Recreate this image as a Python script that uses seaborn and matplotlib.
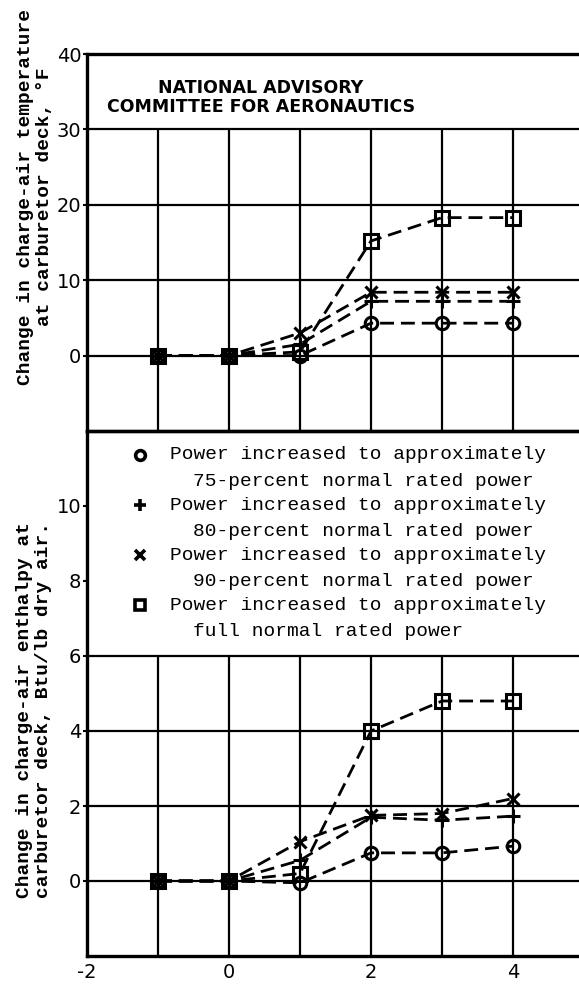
import matplotlib
matplotlib.use("Agg")
import matplotlib.pyplot as plt
from matplotlib.lines import Line2D
import seaborn as sns

# data (time axis, change values)
time = [-1, 0, 1, 2, 3, 4]

temp_75 = [0, 0, 0.0, 4.3, 4.3, 4.3]
temp_80 = [0, 0, 1.5, 7.2, 7.2, 7.2]
temp_90 = [0, 0, 3.0, 8.4, 8.4, 8.4]
temp_full = [0, 0, 0.5, 15.2, 18.3, 18.3]

enth_75 = [0, 0, -0.05, 0.75, 0.75, 0.93]
enth_80 = [0, 0, 0.55, 1.70, 1.62, 1.73]
enth_90 = [0, 0, 1.05, 1.75, 1.80, 2.20]
enth_full = [0, 0, 0.2, 4.0, 4.8, 4.8]

series_markers = ["o", "+", "x", "s"]
legend_pct = ["75-percent normal rated power", "80-percent normal rated power",
              "90-percent normal rated power", "full normal rated power"]

temp_ticks = [0, 10, 20, 30, 40]
enth_ticks = [0, 2, 4, 6, 8, 10]
x_ticks = [-2, 0, 2, 4]
x_grid = [-1, 0, 1, 2, 3, 4]

sns.set_style("white")
plt.rcParams["font.family"] = ["DejaVu Sans"]
plt.rcParams["text.color"] = "black"
plt.rcParams["axes.unicode_minus"] = False

W, H = 579, 985
fig = plt.figure(figsize=(W / 100, H / 100), dpi=100)

left = 87 / W
ax_t = fig.add_axes([left, 1 - 431 / H, 1 - left, 377 / H])
ax_e = fig.add_axes([left, 1 - 956 / H, 1 - left, 525 / H])

dash = (0, (5, 2.5))
msize = {"o": 9, "+": 10, "x": 9, "s": 9.5}


def draw(ax, series):
    for vals, m in zip(series, series_markers):
        sns.lineplot(x=time, y=vals, ax=ax, color="black", linewidth=2,
                     linestyle=dash, marker=m, markersize=msize[m],
                     markerfacecolor="none", markeredgecolor="black",
                     markeredgewidth=2.2, legend=False, zorder=3)


draw(ax_t, [temp_75, temp_80, temp_90, temp_full])
draw(ax_e, [enth_75, enth_80, enth_90, enth_full])

# upper panel: temperature
ax_t.set_xlim(-2, 4.93)
ax_t.set_ylim(-10, 40)
ax_t.vlines(x_grid, -10, 30, color="black", lw=1.6, zorder=1)
for y in [0, 10, 20, 30]:
    ax_t.axhline(y, color="black", lw=1.6, zorder=1)
ax_t.set_yticks(temp_ticks)
ax_t.set_xticks([])

# lower panel: enthalpy
ax_e.set_xlim(-2, 4.93)
ax_e.set_ylim(-2, 12)
ax_e.vlines(x_grid, -2, 6, color="black", lw=1.6, zorder=1)
for y in [0, 2, 4, 6]:
    ax_e.axhline(y, color="black", lw=1.6, zorder=1)
ax_e.set_yticks(enth_ticks)
ax_e.set_xticks(x_ticks)

for ax in (ax_t, ax_e):
    ax.set_xlabel("")
    ax.set_ylabel("")
    for s in ["left", "top", "bottom"]:
        ax.spines[s].set_linewidth(2.4)
        ax.spines[s].set_color("black")
    ax.spines["right"].set_visible(False)
    ax.tick_params(axis="y", length=3, width=1.5, pad=1, labelsize=14,
                   colors="black", left=True)
    ax.tick_params(axis="x", length=0, pad=5, labelsize=14, colors="black")
    ax.patch.set_alpha(0)

# axis titles
mono = ["Liberation Mono", "DejaVu Sans Mono"]
fig.text(35 / W, 1 - 197 / H, "Change in charge-air temperature\nat carburetor deck, \u00b0F",
         rotation=90, ha="center", va="center", multialignment="center",
         family=mono, weight="bold", fontsize=14, color="black")
fig.text(34 / W, 1 - 710 / H, "Change in charge-air enthalpy at\ncarburetor deck, Btu/lb dry air.",
         rotation=90, ha="center", va="center", multialignment="center",
         family=mono, weight="bold", fontsize=14, color="black")

# NACA stamp
fig.text(261 / W, 1 - 88 / H, "NATIONAL ADVISORY", ha="center", va="center",
         weight="bold", fontsize=12.5, color="black")
fig.text(261 / W, 1 - 107 / H, "COMMITTEE FOR AERONAUTICS", ha="center", va="center",
         weight="bold", fontsize=12.5, color="black")

# legend drawn by hand
for i, (m, pct) in enumerate(zip(series_markers, legend_pct)):
    y1 = 1 - (455 + 50 * i) / H
    y2 = 1 - (481 + 50 * i) / H
    fig.add_artist(Line2D([140 / W], [y1], marker=m, color="black",
                          markersize=7 if m != "+" else 9, markerfacecolor="none",
                          markeredgewidth=2.6, linestyle="none"))
    fig.text(170 / W, y1, "Power increased to approximately", ha="left", va="center",
             family=mono, fontsize=14, color="black")
    fig.text(193 / W, y2, pct, ha="left", va="center", family=mono, fontsize=14,
             color="black")

fig.savefig("out.png", dpi=100)
